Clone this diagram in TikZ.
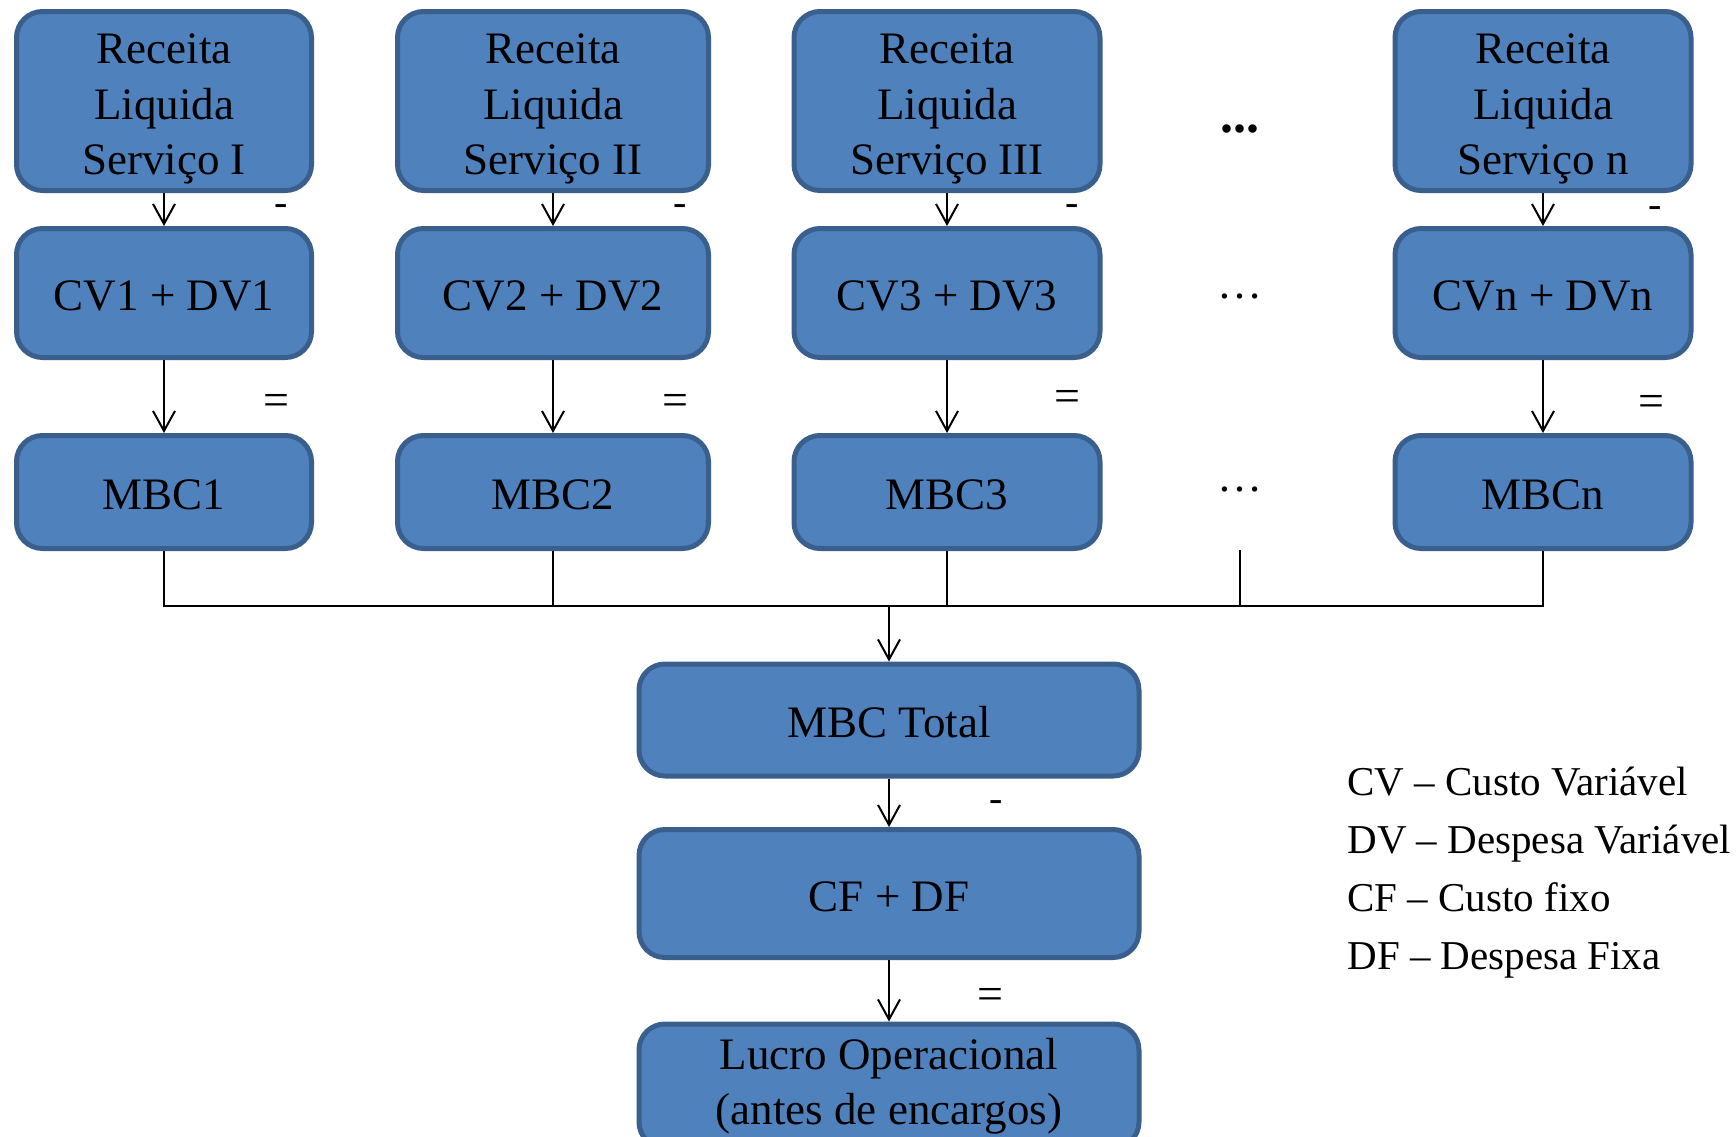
\documentclass[tikz,border=0pt]{standalone}
\usepackage{fontspec}
\setmainfont{Liberation Serif}
\usetikzlibrary{arrows.meta}
\definecolor{boxfill}{HTML}{4F81BD}
\definecolor{boxline}{HTML}{3A5F8D}
\newcommand{\topstrut}{\rule{0pt}{23pt}}
\begin{document}
\begin{tikzpicture}[x=0.5pt,y=-0.5pt,
  boxbase/.style={draw=boxline, fill=boxfill, line width=2.5pt, rounded corners=13pt, align=center,
    font=\fontsize{22.5}{27.7}\selectfont, inner sep=0pt},
  box/.style={boxbase, execute at begin node={\rule{0pt}{18pt}}},
  conn/.style={line width=1pt, -{Straight Barb[length=10pt,width=11pt,line width=1pt]}},
  plainline/.style={line width=1pt},
  minus/.style={font=\fontsize{20}{24}\selectfont, inner sep=0pt},
  equals/.style={font=\fontsize{23}{26}\selectfont, inner sep=0pt},
  legendtxt/.style={font=\fontsize{20.5}{24}\selectfont, anchor=base west, inner sep=0pt},
  dotstxt/.style={font=\fontsize{22.5}{27}\selectfont, inner sep=0pt}]
\clip (0,0) rectangle (1736,1136);

% Row 1
\node[boxbase, minimum width=147.5pt, minimum height=89.5pt] (r1) at (164,101) {\topstrut Receita\\Liquida\\Serviço I};
\node[boxbase, minimum width=155.5pt, minimum height=89.5pt] (r2) at (553,101) {\topstrut Receita\\Liquida\\Serviço II};
\node[boxbase, minimum width=153pt, minimum height=89.5pt] (r3) at (947,101) {\topstrut Receita\\Liquida\\Serviço III};
\node[boxbase, minimum width=148pt, minimum height=89.5pt] (rn) at (1543,101) {\topstrut Receita\\Liquida\\Serviço n};

% Row 2
\node[box, minimum width=147.5pt, minimum height=64.5pt] (c1) at (164,293) {CV1 + DV1};
\node[box, minimum width=155.5pt, minimum height=64.5pt] (c2) at (553,293) {CV2 + DV2};
\node[box, minimum width=153pt, minimum height=64.5pt] (c3) at (947,293) {CV3 + DV3};
\node[box, minimum width=148pt, minimum height=64.5pt] (cn) at (1543,293) {CVn + DVn};

% Row 3
\node[box, minimum width=147.5pt, minimum height=56.5pt] (m1) at (164,492) {MBC1};
\node[box, minimum width=155.5pt, minimum height=56.5pt] (m2) at (553,492) {MBC2};
\node[box, minimum width=153pt, minimum height=56.5pt] (m3) at (947,492) {MBC3};
\node[box, minimum width=148pt, minimum height=56.5pt] (mn) at (1543,492) {MBCn};

% dots column
\node[font=\fontsize{26}{30}\selectfont\bfseries, inner sep=0pt, anchor=base] (d1) at (1240,132) {...};
\node[dotstxt] (d2) at (1240,296.5) {…};
\node[dotstxt] (d3) at (1240,489.5) {…};
\coordinate (dbot) at (1240,550);

% Bottom boxes
\node[box, minimum width=250pt, minimum height=56pt] (tot) at (889,720) {MBC Total};
\node[box, minimum width=250pt, minimum height=64pt] (cf) at (889,893.5) {CF + DF};
\node[boxbase, minimum width=250pt, minimum height=62pt] (lo) at (889,1086) {Lucro Operacional\\(antes de encargos)};

% arrows row1 -> row2 -> row3
\foreach \a/\b/\c in {r1/c1/m1, r2/c2/m2, r3/c3/m3, rn/cn/mn}{
  \draw[conn] (\a.south) -- (\b.north);
  \draw[conn] (\b.south) -- (\c.north);
}

% signs
\node[minus] (s1) at (281,210) {-};
\node[minus] (s2) at (680,210) {-};
\node[minus] (s3) at (1072,210) {-};
\node[minus] (sn) at (1655,212) {-};
\node[equals] (e1) at (276,404.5) {=};
\node[equals] (e2) at (675,404.5) {=};
\node[equals] (e3) at (1067,400.5) {=};
\node[equals] (en) at (1651,405.5) {=};
\node[minus] (st) at (996,806) {-};
\node[equals] (et) at (990,999) {=};

% collector
\coordinate (j) at (889,606);
\draw[plainline] (m1.south) -- (m1.south |- j) -- (mn.south |- j) -- (mn.south);
\draw[plainline] (m2.south) -- (m2.south |- j);
\draw[plainline] (m3.south) -- (m3.south |- j);
\draw[plainline] (dbot) -- (dbot |- j);
\draw[conn] (j) -- (tot.north);
\draw[conn] (tot.south) -- (cf.north);
\draw[conn] (cf.south) -- (lo.north);

% legend
\node[legendtxt] (l1) at (1347,795) {CV – Custo Variável};
\node[legendtxt] (l2) at (1347,853) {DV – Despesa Variável};
\node[legendtxt] (l3) at (1347,911) {CF – Custo fixo};
\node[legendtxt] (l4) at (1347,969) {DF – Despesa Fixa};
\end{tikzpicture}
\end{document}
